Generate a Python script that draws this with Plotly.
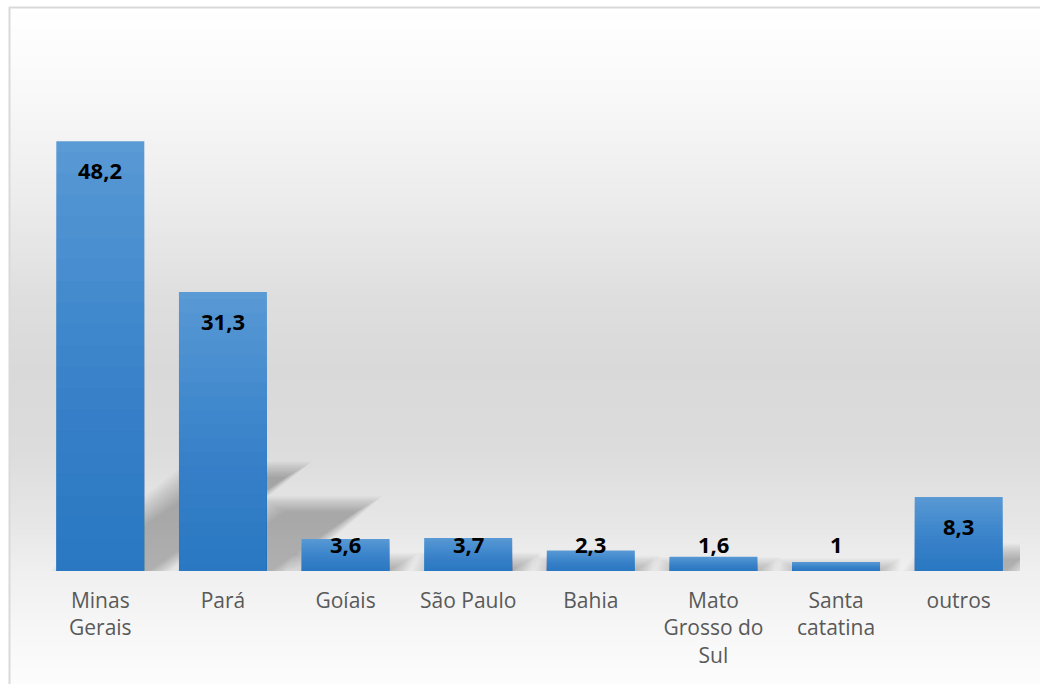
import plotly.graph_objects as go

# ---------------- data ----------------
categories = ["Minas<br>Gerais", "Pará", "Goíais", "São Paulo", "Bahia",
              "Mato<br>Grosso do<br>Sul", "Santa<br>catatina", "outros"]
values = [48.2, 31.3, 3.6, 3.7, 2.3, 1.6, 1.0, 8.3]
value_labels = ["48,2", "31,3", "3,6", "3,7", "2,3", "1,6", "1", "8,3"]

# ---------------- geometry / style ----------------
W, H = 1040, 684
ML, MR, MT, MB = 39, 20, 36, 113
PW = W - ML - MR
PH = H - MT - MB
YMAX = 60
px_per_x = PW / len(categories)
px_per_y = PH / YMAX
BAR_FRAC = 88 / px_per_x
x_pos = list(range(len(categories)))

FONT = "Open Sans"
TOP_COLOR = "#5b9bd5"


def px_to_paper_x(px):
    return (px - ML) / PW


def px_to_paper_y(py):
    return (H - MB - py) / PH


shapes = []

# background vertical gradient (chart area fill)
stops = [(7, 255), (100, 248), (200, 236), (300, 222), (370, 217),
         (450, 220), (520, 230), (575, 240), (640, 248), (684, 252)]


def gray_at(py):
    for (y0, g0), (y1, g1) in zip(stops[:-1], stops[1:]):
        if y0 <= py <= y1:
            t = (py - y0) / (y1 - y0)
            return g0 + (g1 - g0) * t
    return stops[-1][1]


step = 3
py = 7
while py < H:
    g = int(round(gray_at(py + step / 2)))
    shapes.append(dict(type="rect", xref="paper", yref="paper", layer="below",
                       x0=px_to_paper_x(9), x1=px_to_paper_x(W + 2),
                       y0=px_to_paper_y(py + step + 0.5), y1=px_to_paper_y(py),
                       fillcolor=f"rgb({g},{g},{g})", line=dict(width=0)))
    py += step

# frame (left and top borders)
shapes.append(dict(type="line", xref="paper", yref="paper", layer="below",
                   x0=px_to_paper_x(9.5), x1=px_to_paper_x(9.5),
                   y0=px_to_paper_y(H + 2), y1=px_to_paper_y(7),
                   line=dict(color="#d9d9d9", width=2)))
shapes.append(dict(type="line", xref="paper", yref="paper", layer="below",
                   x0=px_to_paper_x(9), x1=px_to_paper_x(W + 2),
                   y0=px_to_paper_y(7.5), y1=px_to_paper_y(7.5),
                   line=dict(color="#d9d9d9", width=2)))

# soft perspective shadows behind bars (derived from the values)
half = BAR_FRAC / 2
blur_levels = list(range(-8, 19, 2))
for xi, v in zip(x_pos, values):
    h_px = v * px_per_y
    dx = 0.35 * h_px / px_per_x
    dy = 0.23 * v
    for e in blur_levels:
        ex = e / px_per_x
        ey = 0.6 * e / px_per_y
        x0 = xi - half
        x1 = xi + half
        path = (f"M {x0 - ex},{-1} L {x1 + ex},{-1} "
                f"L {x1 + dx + ex},{dy + ey} L {x0 + dx - ex},{dy + ey} Z")
        shapes.append(dict(type="path", xref="x", yref="y", layer="below",
                           path=path, fillcolor="rgba(0,0,0,0.018)",
                           line=dict(width=0)))

fig = go.Figure()

# main bars
fig.add_trace(go.Bar(x=x_pos, y=values, marker=dict(color=TOP_COLOR, line=dict(width=0)),
                     width=BAR_FRAC, hoverinfo="skip", showlegend=False))
# gradient overlays (darker toward the bottom)
N = 20
alpha = 1 - (1 - 0.62) ** (1 / N)
for k in range(1, N + 1):
    f = 1 - (k - 0.5) / N
    fig.add_trace(go.Bar(x=x_pos, y=[v * f for v in values],
                         marker=dict(color=f"rgba(30,115,200,{alpha:.4f})", line=dict(width=0)),
                         width=BAR_FRAC, hoverinfo="skip", showlegend=False))

# value labels (inside end, clamped for small bars)
annotations = []
min_center = 27 / px_per_y
offset = 29 / px_per_y
for xi, v, lab in zip(x_pos, values, value_labels):
    annotations.append(dict(x=xi, y=max(v - offset, min_center), xref="x", yref="y",
                            text=f"<b>{lab}</b>", showarrow=False, yanchor="middle",
                            font=dict(family=FONT, size=22, color="#000000", weight=800)))

fig.update_layout(
    width=W, height=H,
    margin=dict(l=ML, r=MR, t=MT, b=MB, pad=0),
    paper_bgcolor="#ffffff",
    plot_bgcolor="rgba(0,0,0,0)",
    barmode="overlay",
    showlegend=False,
    shapes=shapes,
    annotations=annotations,
    xaxis=dict(range=[-0.5, len(categories) - 0.5], tickmode="array",
               tickvals=x_pos, ticktext=categories, showgrid=False,
               zeroline=False, showline=False, ticks="", ticklabelstandoff=15,
               tickfont=dict(family=FONT, size=21, color="#595959"), fixedrange=True),
    yaxis=dict(range=[0, YMAX], visible=False, showgrid=False, zeroline=False,
               fixedrange=True),
)

fig.write_html("out.html", config={"displayModeBar": False},
               post_script="document.body.style.margin='0';document.body.style.overflow='hidden';")
